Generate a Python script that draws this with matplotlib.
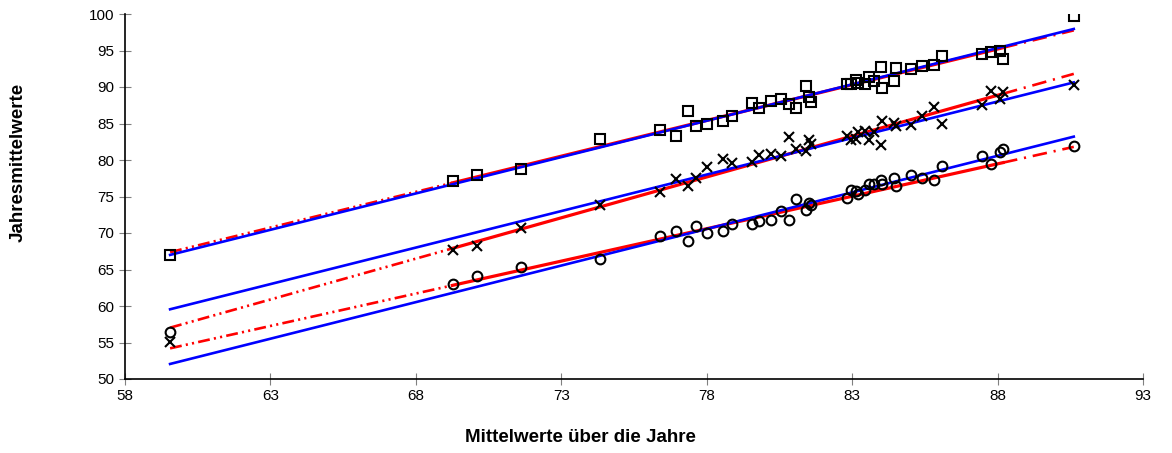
import matplotlib
matplotlib.use("Agg")
import matplotlib.pyplot as plt
import numpy as np

plt.rcParams['font.family'] = ['Liberation Sans', 'DejaVu Sans']

# Data
x_vals = [59.55, 69.26, 70.1, 71.6, 74.32, 76.4, 76.95, 77.37, 77.63, 78.0,
          78.55, 78.88, 79.55, 79.8, 80.2, 80.54, 80.84, 81.07, 81.41, 81.5,
          81.6, 82.82, 82.95, 83.13, 83.21, 83.44, 83.58, 83.75, 83.98, 84.03,
          84.45, 84.5, 85.04, 85.41, 85.83, 86.08, 87.48, 87.79, 88.08, 88.19,
          90.62]
squares = [67.0, 77.15, 77.97, 78.75, 82.86, 84.05, 83.3, 86.75, 84.7, 85.0,
           85.3, 86.0, 87.8, 87.1, 88.1, 88.35, 87.7, 87.1, 90.17, 88.6,
           88.0, 90.45, 90.45, 90.9, 90.5, 90.45, 91.4, 90.8, 92.8, 89.9,
           90.8, 92.6, 92.4, 92.9, 93.0, 94.2, 94.5, 94.75, 95.0, 93.9,
           99.7]
crosses = [55.1, 67.7, 68.24, 70.75, 73.77, 75.55, 77.4, 76.5, 77.5, 79.1,
           80.2, 79.6, 79.7, 80.7, 80.85, 80.5, 83.2, 81.5, 81.17, 82.7,
           82.2, 83.3, 82.7, 82.85, 83.9, 84.0, 82.8, 83.8, 82.1, 85.4,
           85.05, 84.6, 84.8, 86.05, 87.3, 84.9, 87.5, 89.4, 88.35, 89.25,
           90.27]
circles = [56.4, 62.98, 64.1, 65.3, 66.5, 69.65, 70.25, 68.97, 70.9, 70.06,
           70.3, 71.2, 71.2, 71.7, 71.75, 73.0, 71.75, 74.6, 73.2, 74.1,
           73.9, 74.8, 75.9, 75.8, 75.3, 75.9, 76.7, 76.7, 77.3, 76.7,
           77.55, 76.5, 77.9, 77.5, 77.3, 79.2, 80.6, 79.4, 81.1, 81.5,
           81.95]

# fitted lines: values at x = line_x[0] and line_x[1]
line_x = [59.55, 90.62]
solid_range = [69.26, 88.19]
blue_lines = {'squares': [67.0, 97.95], 'crosses': [59.55, 90.63], 'circles': [52.06, 83.2]}
red_lines = {'squares': [67.37, 97.76], 'crosses': [57.03, 91.8], 'circles': [54.2, 81.8]}

x_ticks = [58, 63, 68, 73, 78, 83, 88, 93]
y_ticks = [50, 55, 60, 65, 70, 75, 80, 85, 90, 95, 100]

fig = plt.figure(figsize=(11.72, 4.53), dpi=100)
ax = fig.add_axes([125/1172, 1-379/453, (1143-125)/1172, (379-14)/453])

def line_at(ends, xv):
    return ends[0] + (ends[1]-ends[0])*(xv-line_x[0])/(line_x[1]-line_x[0])

lw = 1.9
left_style = (0, (4.5, 1.6, 0.8, 1.6, 0.8, 1.6))
right_style = (0, (5.5, 2.6, 0.8, 2.6))
for key in ['squares', 'crosses', 'circles']:
    r = red_lines[key]
    xs = [line_x[0], solid_range[0]]
    ax.plot(xs, [line_at(r, v) for v in xs], color='#ff0000', lw=lw, ls=left_style, zorder=2)
    xs = [solid_range[0], solid_range[1]]
    ax.plot(xs, [line_at(r, v) for v in xs], color='#ff0000', lw=lw+0.4, ls='-', zorder=2)
    xs = [solid_range[1], line_x[1]]
    ax.plot(xs, [line_at(r, v) for v in xs], color='#ff0000', lw=lw, ls=right_style, zorder=2)
    b = blue_lines[key]
    ax.plot(line_x, b, color='#0000ff', lw=lw, zorder=3)

mk = dict(ls='none', mfc='none', mec='black', mew=1.5, zorder=4)
ax.plot(x_vals, squares, marker='s', ms=7, **mk)
ax.plot(x_vals, crosses, marker='x', ms=7, **mk)
ax.plot(x_vals, circles, marker='o', ms=7, **mk)

ax.set_xlim(58, 93)
ax.set_ylim(50, 100)
ax.set_xticks(x_ticks)
ax.set_yticks(y_ticks)
ax.set_xticklabels([str(t) for t in x_ticks], fontsize=11)
ax.set_yticklabels([str(t) for t in y_ticks], fontsize=11)
ax.tick_params(axis='both', direction='inout', length=9, width=0.8, color='#808080', pad=3)
ax.spines['top'].set_visible(False)
ax.spines['right'].set_visible(False)
ax.spines['left'].set_linewidth(1.2)
ax.spines['bottom'].set_linewidth(1.2)
ax.set_facecolor('white')

fig.text(580/1172, 1-438/453, 'Mittelwerte über die Jahre', ha='center', va='center',
         fontsize=13.5, fontweight='bold')
fig.text(18/1172, 1-162/453, 'Jahresmittelwerte', ha='center', va='center',
         rotation=90, fontsize=13.5, fontweight='bold')

fig.savefig('out.png', dpi=100, facecolor='white')
